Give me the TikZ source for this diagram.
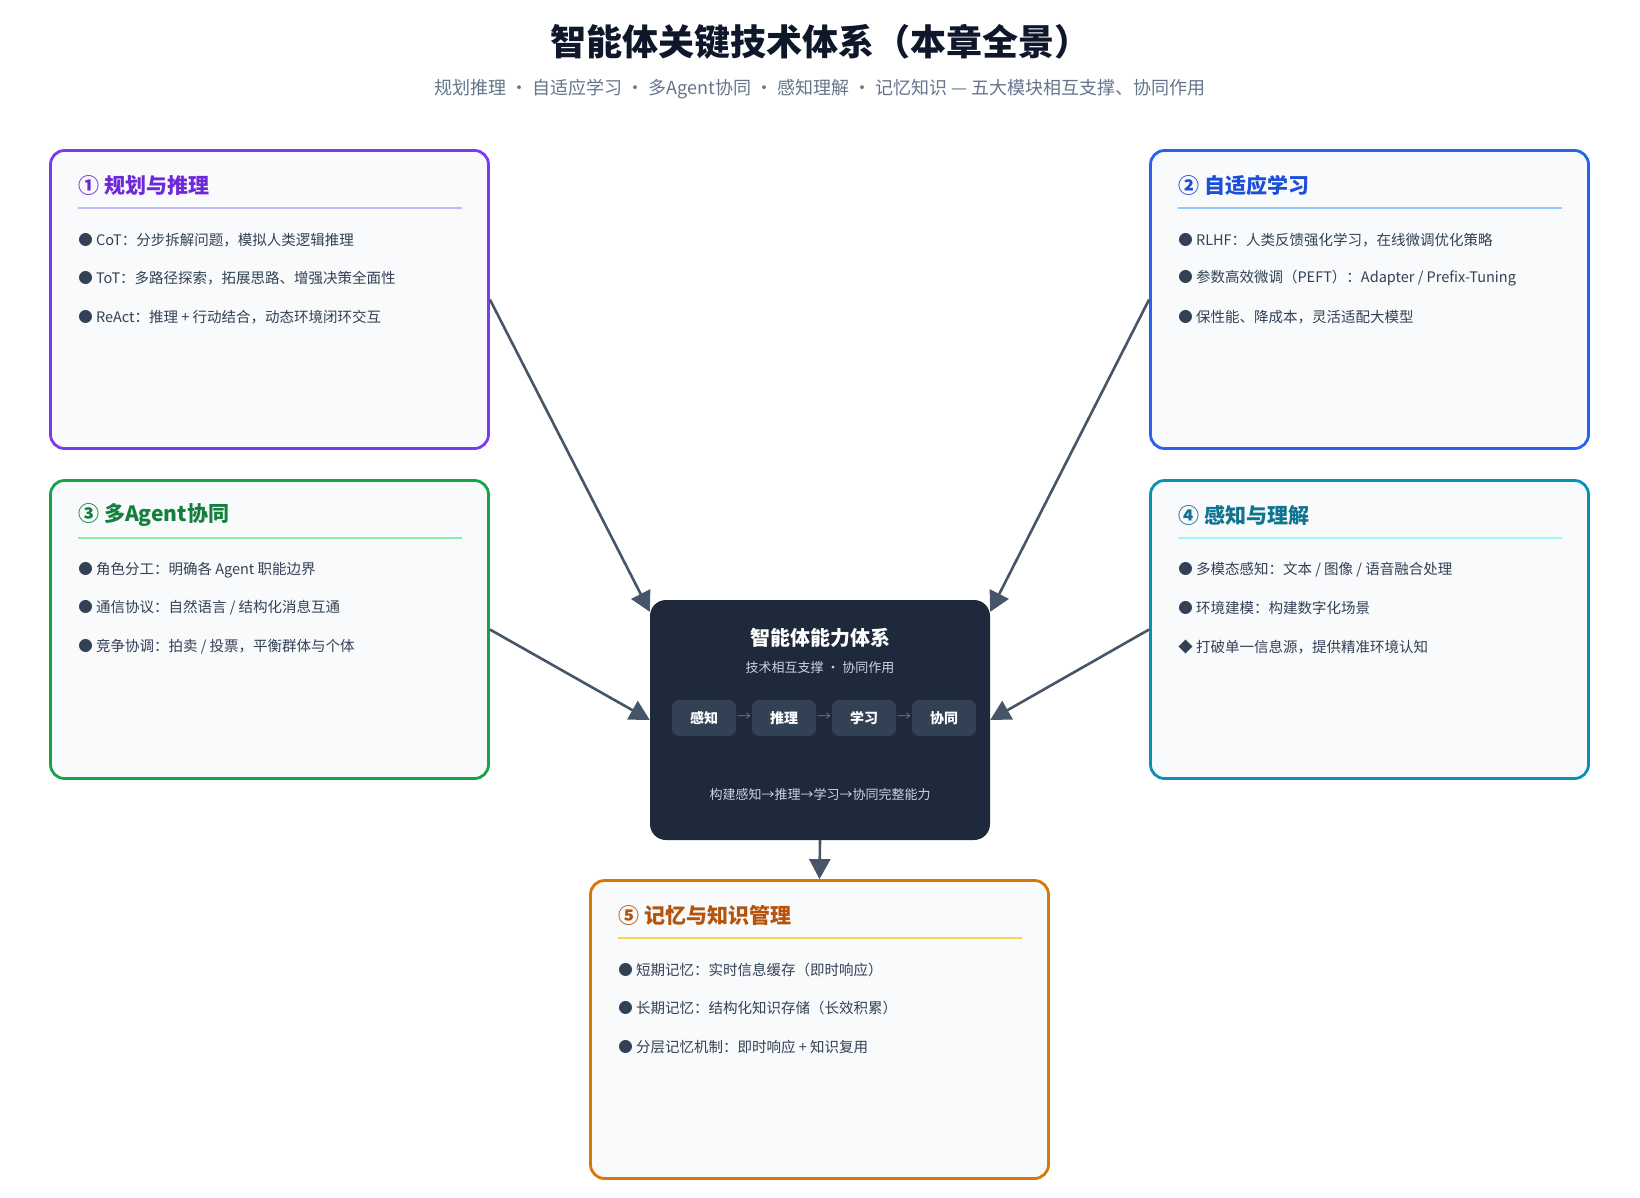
\documentclass[tikz,border=0pt]{standalone}
\usepackage{fontspec}
\setmainfont{Noto Sans CJK SC}
\usetikzlibrary{arrows.meta,positioning}

\definecolor{planline}{HTML}{7C3AED}
\definecolor{plantext}{HTML}{6D28D9}
\definecolor{planrule}{HTML}{C4B5FD}
\definecolor{learnline}{HTML}{2563EB}
\definecolor{learntext}{HTML}{1D4ED8}
\definecolor{learnrule}{HTML}{93C5FD}
\definecolor{multiline}{HTML}{16A34A}
\definecolor{multitext}{HTML}{15803D}
\definecolor{multirule}{HTML}{86EFAC}
\definecolor{senseline}{HTML}{0891B2}
\definecolor{sensetext}{HTML}{0E7490}
\definecolor{senserule}{HTML}{A5F3FC}
\definecolor{memline}{HTML}{D97706}
\definecolor{memtext}{HTML}{B45309}
\definecolor{memrule}{HTML}{FCD34D}
\definecolor{cardbg}{HTML}{F8FAFC}
\definecolor{itemtext}{HTML}{334155}
\definecolor{linkgray}{HTML}{475569}
\definecolor{corebg}{HTML}{1E293B}
\definecolor{pillbg}{HTML}{334155}
\definecolor{coresub}{HTML}{CBD5E1}
\definecolor{titletext}{HTML}{0F172A}
\definecolor{subtext}{HTML}{64748B}

\begin{document}
\begin{tikzpicture}[x=1pt,y=-1pt,>={Triangle[width=21pt,length=20pt]}]

        \tikzstyle{card}=[draw, fill=cardbg, rounded corners=14pt, line width=2.8pt, minimum width=438pt, minimum height=298pt, inner sep=0pt]
        \tikzstyle{head}=[anchor=west, inner sep=0pt, font=\fontsize{21}{24}\selectfont\bfseries]
        \tikzstyle{item}=[anchor=west, inner sep=0pt, text=itemtext, font=\fontsize{14.5}{17}\selectfont]
        \tikzstyle{core}=[fill=corebg, rounded corners=16pt, minimum width=340pt, minimum height=240pt, inner sep=0pt]
        \tikzstyle{pill}=[fill=pillbg, rounded corners=7pt, minimum width=64pt, minimum height=36pt, inner sep=0pt, text=white, font=\fontsize{14}{16}\selectfont\bfseries]
        \tikzstyle{link}=[->, draw=linkgray, fill=linkgray, line width=2.6pt]

        \def \card#1#2#3#4#5#6#7{
          \node (#1) [card, draw=#3line, #2] {};
          \node (#1head) [head, text=#3text] at ([xshift=29pt,yshift=-36pt]#1.north west) {#4};
          \draw [#3rule, line width=2pt] ([xshift=29pt,yshift=-59pt]#1.north west) -- ([xshift=-28pt,yshift=-59pt]#1.north east);
          \node (#1a) [item] at ([xshift=29pt,yshift=-91pt]#1.north west) {#5};
          \node (#1b) [item] at ([xshift=29pt,yshift=-129pt]#1.north west) {#6};
          \node (#1c) [item] at ([xshift=29pt,yshift=-168pt]#1.north west) {#7};
        }

        \useasboundingbox (0,0) rectangle (1640,1197);

        \node (title) [text=titletext, font=\fontsize{36}{40}\selectfont\bfseries] at (820,42) {智能体关键技术体系（本章全景）};
        \node (subtitle) [text=subtext, font=\fontsize{18}{21}\selectfont] at (820,89) {规划推理 · 自适应学习 · 多Agent协同 · 感知理解 · 记忆知识 — 五大模块相互支撑、协同作用};

        \card{plan}{at={(269.5,299.5)}}{plan}{① 规划与推理}{● CoT：分步拆解问题，模拟人类逻辑推理}{● ToT：多路径探索，拓展思路、增强决策全面性}{● ReAct：推理 + 行动结合，动态环境闭环交互}
        \card{learn}{at={(1369.5,299.5)}}{learn}{② 自适应学习}{● RLHF：人类反馈强化学习，在线微调优化策略}{● 参数高效微调（PEFT）：Adapter / Prefix-Tuning}{● 保性能、降成本，灵活适配大模型}
        \card{multi}{at={(269.5,629.5)}}{multi}{③ 多Agent协同}{● 角色分工：明确各 Agent 职能边界}{● 通信协议：自然语言 / 结构化消息互通}{● 竞争协调：拍卖 / 投票，平衡群体与个体}
        \card{sense}{at={(1369.5,629.5)}}{sense}{④ 感知与理解}{● 多模态感知：文本 / 图像 / 语音融合处理}{● 环境建模：构建数字化场景}{◆ 打破单一信息源，提供精准环境认知}
        \card{mem}{at={(819.5,1029.5)}, minimum width=458pt}{mem}{⑤ 记忆与知识管理}{● 短期记忆：实时信息缓存（即时响应）}{● 长期记忆：结构化知识存储（长效积累）}{● 分层记忆机制：即时响应 + 知识复用}

        % core
        \node (core) [core] at (820,720) {};
        \node (corehead) [text=white, font=\fontsize{20}{24}\selectfont\bfseries] at (820,638) {智能体能力体系};
        \node (coresub) [text=coresub, font=\fontsize{13}{15}\selectfont] at (820,668) {技术相互支撑 · 协同作用};
        \foreach \t [count=\i from 0] in {感知,推理,学习,协同}  \node (pill\i) [pill] at (704+80*\i,718) {\t};
        \foreach \i in {0,1,2}  \node (to\i) [text=subtext, font=\fontsize{14}{16}\selectfont] at (744+80*\i,717) {→};
        \node (corefoot) [text=coresub, font=\fontsize{13}{15}\selectfont] at (820,795) {构建感知→推理→学习→协同完整能力};

        \draw[link]  (plan.east) -- ([yshift=-12pt]core.north west);
        \draw[link]  (learn.west) -- ([yshift=-12pt]core.north east);
        \draw[link]  (multi.east) -- (core.west);
        \draw[link]  (sense.west) -- (core.east);
        \draw[link]  (core.south) -- (mem.north);

\end{tikzpicture}
\end{document}
